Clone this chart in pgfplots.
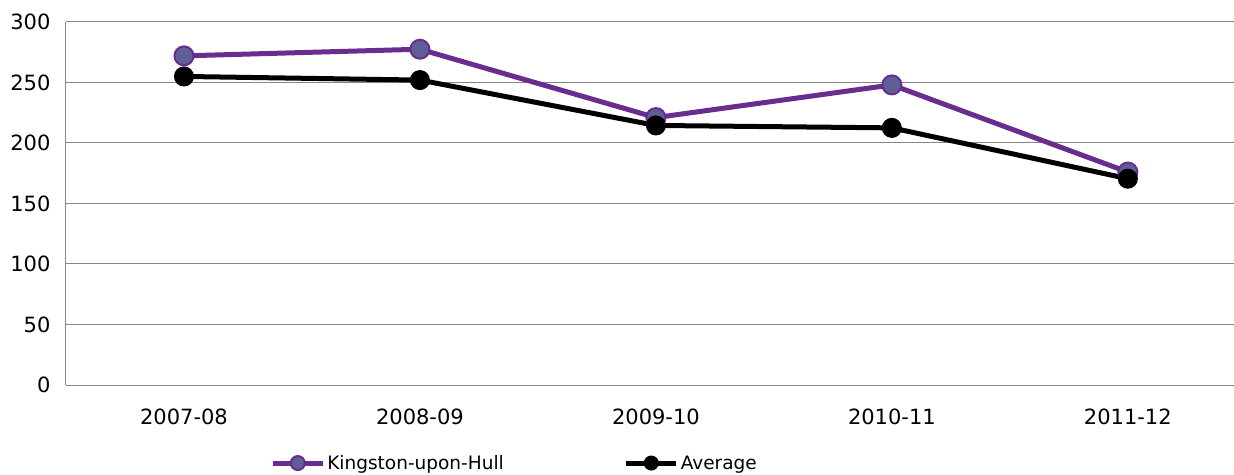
\documentclass[border=0pt]{standalone}
\usepackage{pgfplots}
\pgfplotsset{compat=1.18}
\usepackage{fontspec}
\setmainfont{DejaVu Sans}
\definecolor{hullline}{HTML}{6A2C8E}
\definecolor{hullfill}{HTML}{5E5F97}
\definecolor{gridgray}{HTML}{868686}
\begin{document}
\begin{tikzpicture}[x=1pt,y=1pt]
\useasboundingbox (0,0) rectangle (1234,474);
\begin{axis}[
  at={(66pt,89pt)}, anchor=south west,
  scale only axis, width=1168pt, height=363pt,
  xmin=-0.5, xmax=4.45, ymin=0, ymax=300,
  xtick={0,1,2,3,4},
  xticklabels={2007-08,2008-09,2009-10,2010-11,2011-12},
  ytick={0,50,100,150,200,250,300},
  ymajorgrids, major grid style={gridgray, line width=1pt},
  axis x line*=bottom, axis y line*=left,
  axis line style={gridgray, line width=1pt, -},
  major tick length=0pt,
  tick label style={font=\fontsize{21}{25}\selectfont},
  /pgf/number format/assume math mode=true,
  yticklabel style={xshift=-12pt},
  xticklabel style={yshift=-20pt},
  clip=false,
  legend style={at={(0.384,-0.215)}, anchor=center, draw=none, fill=none,
    font=\fontsize{18.5}{22}\selectfont, legend columns=2,
    /tikz/every even column/.append style={column sep=118pt},
    nodes={inner sep=2pt},
    inner sep=0pt},
  legend cell align=left,
  legend image code/.code={\draw[mark repeat=2,mark phase=2,#1, mark size=7pt] plot coordinates {(0pt,0pt) (25pt,0pt) (50pt,0pt)};},
]
\addplot[hullline, line width=5pt, mark=*, mark size=9.5pt,
  mark options={fill=hullfill, draw=hullline, line width=2pt}]
  coordinates {(0,272) (1,277.5) (2,221) (3,248) (4,176)};
\addlegendentry{Kingston-upon-Hull}
\addplot[black, line width=5pt, mark=*, mark size=9.5pt,
  mark options={fill=black, draw=black, line width=1pt}]
  coordinates {(0,255) (1,252) (2,214.5) (3,212.5) (4,170.5)};
\addlegendentry{Average}
\end{axis}
\end{tikzpicture}
\end{document}
